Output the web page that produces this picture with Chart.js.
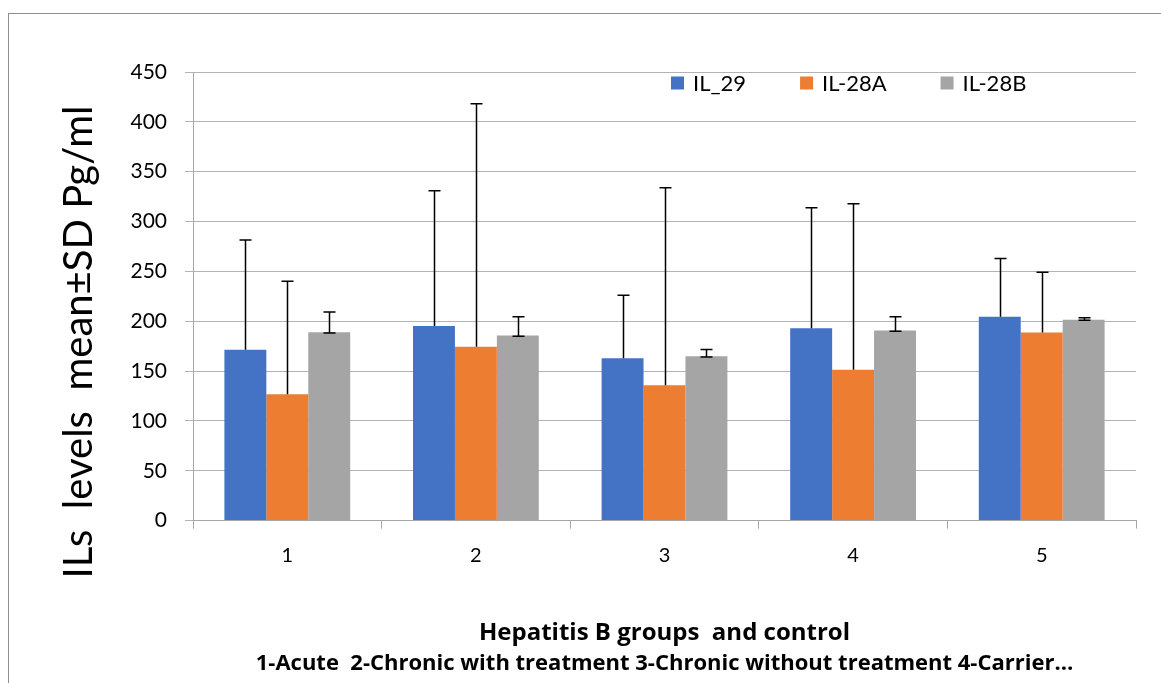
<!DOCTYPE html>
<html>
<head>
<meta charset="utf-8">
<script src="https://cdn.jsdelivr.net/npm/chart.js@4.4.1/dist/chart.umd.min.js"></script>
<style>
  html, body { margin: 0; padding: 0; background: #fff; }
  #wrap { position: relative; width: 1161px; height: 683px; overflow: hidden; }
  #frame { position: absolute; left: 8px; top: 13px; width: 1200px; height: 700px;
           border-left: 1px solid #8f8f8f; border-top: 1px solid #8f8f8f; }
  #myChart { position: absolute; left: 0; top: 0; }
</style>
</head>
<body>
<div id="wrap">
  <div id="frame"></div>
  <canvas id="myChart" width="1161" height="683"></canvas>
</div>
<script>
// groups on the x axis
const groups = ["1", "2", "3", "4", "5"];

// mean values (pg/ml)
const il29 = [171.3, 195.3, 162.9, 192.9, 204.6];
const il28a = [126.8, 174.3, 135.8, 151.2, 188.6];
const il28b = [188.9, 185.6, 164.9, 190.6, 201.6];

// SD (upper error bar)
const il29Sd = [110.1, 135.5, 63.1, 120.9, 58.4];
const il28aSd = [113.2, 243.9, 198.0, 166.6, 60.4];
const il28bSd = [20.4, 19.0, 6.7, 14.0, 2.0];

// lower part of the error bar (only IL-28B shows a lower cap)
const il29Low = [0, 0, 0, 0, 0];
const il28aLow = [0, 0, 0, 0, 0];
const il28bLow = [0.7, 0.7, 0.7, 0.7, 0.7];

const yTicks = [0, 50, 100, 150, 200, 250, 300, 350, 400, 450];

const yTitle = "ILs  levels  mean\u00b1SD Pg/ml";
const xTitle = "Hepatitis B groups  and control";
const xSubtitle = "1-Acute  2-Chronic with treatment 3-Chronic without treatment 4-Carrier\u2026";

Chart.defaults.font.family = "Lato, 'Liberation Sans', sans-serif";
Chart.defaults.color = "#000";

// error bars drawn on top of each bar
const errorBars = {
  id: "errorBars",
  afterDatasetsDraw(chart) {
    const ctx = chart.ctx;
    const y = chart.scales.y;
    ctx.save();
    ctx.strokeStyle = "#000";
    ctx.lineWidth = 1.5;
    chart.data.datasets.forEach((ds, i) => {
      const meta = chart.getDatasetMeta(i);
      meta.data.forEach((bar, j) => {
        const v = ds.data[j];
        const top = y.getPixelForValue(v + ds.sd[j]);
        const low = ds.low[j];
        const base = y.getPixelForValue(v - low);
        const x = Math.round(bar.x) + 0.5;
        ctx.beginPath();
        ctx.moveTo(x, base);
        ctx.lineTo(x, top);
        ctx.moveTo(x - 6, top);
        ctx.lineTo(x + 6, top);
        if (low > 0) {
          ctx.moveTo(x - 6, base);
          ctx.lineTo(x + 6, base);
        }
        ctx.stroke();
      });
    });
    ctx.restore();
  }
};

// legend inside the plot area + rotated y title
const extras = {
  id: "extras",
  afterDraw(chart) {
    const ctx = chart.ctx;
    ctx.save();
    ctx.font = "22px Lato";
    ctx.textBaseline = "middle";
    ctx.textAlign = "left";
    let x = 671;
    const yMid = 83;
    chart.data.datasets.forEach(ds => {
      ctx.fillStyle = ds.backgroundColor;
      ctx.fillRect(x, yMid - 6.5, 13, 13);
      ctx.fillStyle = "#000";
      ctx.fillText(ds.label, x + 22, yMid + 1);
      x += 22 + ctx.measureText(ds.label).width + 54;
    });

    ctx.translate(79, 342);
    ctx.rotate(-Math.PI / 2);
    ctx.textAlign = "center";
    ctx.font = "40px Lato";
    ctx.fillText(yTitle, 0, 0);
    ctx.restore();
  }
};

const data = {
  labels: groups,
  datasets: [
    { label: "IL_29", data: il29, sd: il29Sd, low: il29Low, backgroundColor: "#4472C4" },
    { label: "IL-28A", data: il28a, sd: il28aSd, low: il28aLow, backgroundColor: "#ED7D31" },
    { label: "IL-28B", data: il28b, sd: il28bSd, low: il28bLow, backgroundColor: "#A5A5A5" }
  ]
};

const ctx = document.getElementById("myChart").getContext("2d");

const chart = new Chart(ctx, {
  type: "bar",
  data: data,
  plugins: [errorBars, extras],
  options: {
    responsive: false,
    animation: false,
    layout: { padding: { left: 0, top: 72, right: 25, bottom: 0 } },
    datasets: {
      bar: { categoryPercentage: 0.667, barPercentage: 1.0 }
    },
    plugins: {
      legend: { display: false },
      tooltip: { enabled: false },
      subtitle: {
        display: true,
        position: "bottom",
        fullSize: false,
        text: xSubtitle,
        color: "#000",
        font: { family: "'Open Sans', sans-serif", size: 22, weight: "bold" },
        padding: { top: 2, bottom: 6 }
      }
    },
    scales: {
      x: {
        grid: { offset: true, drawOnChartArea: false, tickLength: 8, color: "#a6a6a6" },
        border: { color: "#a6a6a6" },
        ticks: { padding: 15, font: { size: 20 }, color: "#000" },
        title: {
          display: true,
          text: xTitle,
          color: "#000",
          font: { family: "'Open Sans', sans-serif", size: 24, weight: "bold" },
          padding: { top: 0, bottom: 1 }
        },
        afterFit: s => { s.height = 128; }
      },
      y: {
        min: 0,
        max: 450,
        afterBuildTicks: s => { s.ticks = yTicks.map(v => ({ value: v })); },
        grid: { tickLength: 8, color: "#b3b3b3" },
        border: { color: "#a6a6a6" },
        ticks: { padding: 18, font: { size: 21 }, color: "#000" },
        afterFit: s => { s.width = 193; }
      }
    }
  }
});
</script>
</body>
</html>
